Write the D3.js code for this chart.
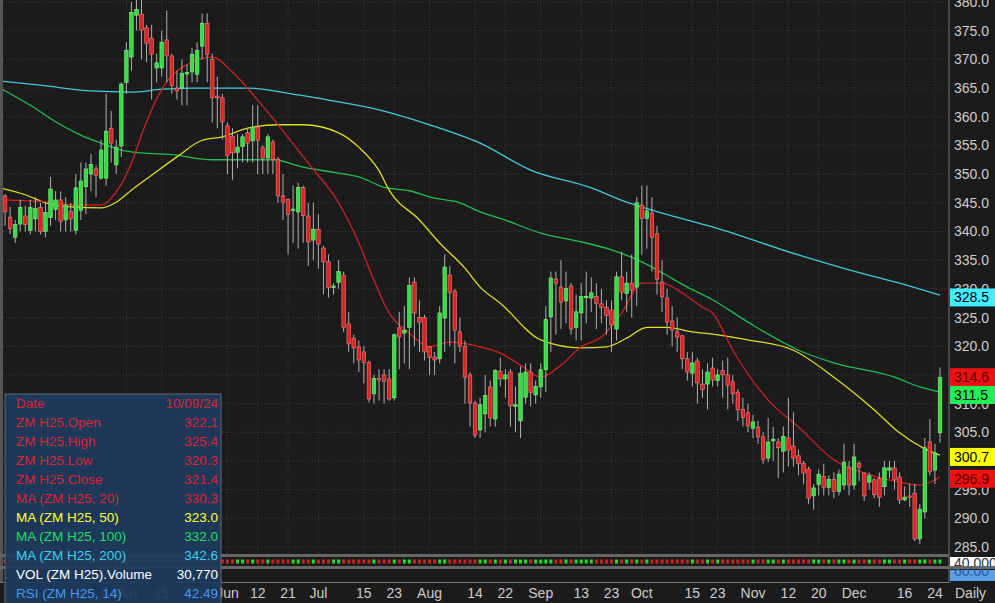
<!DOCTYPE html>
<html>
<head>
<meta charset="utf-8">
<title>ZM H25 Daily</title>
<script src="https://d3js.org/d3.v7.min.js"></script>
<style>
body{margin:0;background:#1b1b1b;overflow:hidden}
text{font-family:"Liberation Sans",Arial,sans-serif}
</style>
</head>
<body>
<script>
// daily candles, oldest first
var opens = [346.2,342.5,339.0,341.3,342.7,340.2,342.2,344.2,340,342.4,343.8,345.5,342,343.5,340.2,343.7,347.8,350,350.9,349.3,
349.3,358,351.6,354.9,366,370.4,377.7,377.9,375.5,373.7,368.5,368.5,373.4,370.6,365,365,367.5,367.8,367.4,372.3,
376.3,370,363.6,363.3,358.4,356.6,353.8,354.8,357.2,355.8,358.2,354.6,352.8,355.6,352.6,346.2,345.6,343.7,343.4,347.7,
342.7,338.5,340.4,337.1,334.7,330.2,331.1,332.4,323.9,321.4,319.9,319,317.2,311.7,314.4,315,314.3,311,323.2,322.3,
323.3,331.2,325,325,319.9,318.1,317.8,324.9,332.4,329.6,322.5,320,315,310.1,305.4,308.2,312.9,307.3,315.6,314.3,
315.5,309.5,307,311.1,315.5,311.5,312.9,315.9,325.1,331.7,330.3,327.9,330.5,323.3,325.8,328.6,328.4,328.7,327.4,326.8,
326.3,323,332.1,329.2,331,330.3,344.6,342.3,343.2,339.6,331.2,328.4,324.4,322.5,321.8,317.8,315.3,317.4,313.4,313.4,
316.2,314,315.8,315,313.8,312,309,308.4,305.7,305.9,304.2,300.5,303.5,303.3,301.7,304,302.6,300.9,299.6,298.6,
293.9,295.9,297.3,295.4,296.8,294.7,295.8,298.9,295.8,299.6,297.9,296.3,296.7,296.9,295.5,298.4,298.8,297.2,293.2,293.9,
294.4,286.4,291.1,303.3,298.4,304.9];
var highs = [346.5,344.3,342,345.5,344.5,345.5,346,345,345,349.5,347,347,346,345,350,352,352,353.5,351.5,356,
364,361,356,366,373,380,380.8,380.5,376,376,371,375,378.5,371,368,370,369,372,373,378,
378,371,367,364,359,358,357,357,358,362,362,355,357,356,353,350,345.7,348,348.5,348,
345,345,343,337.5,336,331,335,333,326,322,321,320,317.5,315,316,316,316,322.2,326,327,
332,332,328,325.5,320,319,327,336,334,330,325,321,315.5,310.5,311,315,314,316,318,316,
316,313,316.5,317,317,314,317,327,333,333,335,333,331,329,331,333,332,331,330,328,
328,333,336.5,333,336,346,348,348,346,341,335,330,327,325,322,319,319,318,316,317,
318,316,317.5,318,315,312.5,311,310,308,307,305,307.5,306,304,306,311,308.5,302,300,299,
296,298.5,299.5,297.5,298,298.5,303,300,303,300,298,298,297,298,300,300,300,298,295.5,296,
296,292.5,304,307.3,303,316.3];
var lows = [341,339.5,338,340,340,339.5,340,339.5,339,341,342,340,340,340,339.5,342,343,347,346,349,
348,352,350,353,364,368,375,370,369.5,363,366,367,366,364,363,362,362,366,366,370,
366,359,358,356,350,349,351,352,352,352,350,350,350,350,345,342,336,338,337,338,
334,335,333.5,329,328.5,329,330,322.5,319,317,315.5,313.5,310.2,310,310.5,310,310.5,310.5,316,317,
316,320,319,317.5,315,315,317,319,320,317,319,310,306,304,304,305,306,306,313,311,
306,305,304,310,309.5,310,311,312,319,322,323,324,322,321,321,324,326,323,324,322,
319,321,328,326,325,327,336,337,333,329,326,322,320,319,316,314,313,310,311,309,
313,313,311,309,310,307,306,305,304,303,299.5,299.8,300,297,298,299,299,297.5,296,292.5,
291.5,294,294,294,293.5,294,295,294,295,296.5,293,295,293.5,292,294,297,295,292.5,293,292,
286,285.5,290,297.5,296,303.2];
var closes = [343.4,340.5,341.2,344.2,341.2,344.2,344,340,343.3,347.4,345.5,341.8,344.6,342.2,347.6,348.8,350.9,351.7,349.8,354.2,
357.5,355.4,354.7,365.7,371.6,378.2,378.7,375.1,372.8,370.9,369.4,373,370.6,365.4,364.5,367.6,367.7,370.9,371.6,376.3,
370.9,363.3,363.3,359.1,353.3,353.7,354.7,356.5,355.4,358.2,355.9,352.8,356.5,352.5,346.2,345.1,343,343.9,347.7,342.8,
338.2,340.4,337.8,334.7,330.2,330.5,333,323.3,320.4,319.7,317.6,317.2,310.8,314.4,314.1,313.9,310.8,322,321.6,322.8,
330.6,325.8,324.2,319,318,317.6,325.8,333.8,329.4,322.8,320,314.6,310.1,304.5,309.8,311.4,307.5,315.8,314.3,315,
309.6,309.8,315.3,315.5,311.9,313,315.9,324.7,331.9,331,327.7,330.1,323,326,328.7,328.7,329.3,327.5,326.8,325.4,
323.7,332.1,329.4,331,329.8,345,342.3,343.6,339,331.7,328.6,324.2,322.8,321.6,317.8,315.5,317.1,313.6,312.5,315.5,
314.1,315,315,313.2,311.7,308.9,307.6,306.1,306.8,304.2,300.3,303.3,303.8,302.3,304.3,301.9,300.5,299.5,297.9,293.5,
295.3,297.7,295.4,296.8,294.7,297.7,299.8,295.8,300.7,298.9,293.9,297.4,294.1,293.7,298.8,298.8,296.7,293.2,293.7,293.7,
286.4,291.6,302.3,298.1,301.4,314.6];

// moving averages: [candle index, value]
var ma20 = [[-1,345.5],[9,345.1],[14,344.6],[19,344.6],[22,346.9],[25,351.9],[27,356.8],[29,361.2],[32,366.1],[37,369.5],[41,370.4],
[45,367.8],[50,362.9],[60,351.9],[66,345.0],[70,338.0],[73,331.5],[76,325.8],[80,322.3],[84,319.9],[88,320.7],[94,319.9],
[98,318.8],[102,316.7],[106,314.6],[110,316.7],[114,319.9],[118,321.6],[122,325.8],[126,331.0],[130,331.0],[134,329.3],
[138,326.8],[140,325.8],[144,319.3],[151,310.6],[157,305.9],[164,300.2],[171,297.6],[177,296.3],[181,295.8],[185,297.2]];
var ma50 = [[-1,347.6],[4,346.4],[8,345.0],[13,344.3],[19,344.1],[22,345.1],[25,347.2],[29,349.8],[34,353.0],[39,355.9],[43,356.5],
[48,358.0],[54,358.6],[59,358.6],[66,357.2],[70,354.7],[74,350.6],[76,347.2],[82,342.0],[86,338.0],[91,333.6],[94,330.3],
[98,327.5],[106,321.1],[114,319.7],[119,319.9],[123,321.4],[127,323.3],[131,323.3],[136,322.5],[140,322.1],[147,321.1],
[156,319.3],[164,314.6],[172,308.9],[177,304.9],[182,302.1],[185,301.0]];
var ma100 = [[-1,365.0],[5,362.0],[11,358.6],[15,356.8],[19,355.4],[23,354.2],[27,353.7],[33,353.4],[41,352.5],[48,352.5],[53,352.5],
[59,351.2],[65,350.3],[70,349.5],[75,347.7],[80,347.1],[85,345.8],[90,345.0],[94,343.4],[98,342.3],[106,339.7],[114,338.2],
[120,336.8],[126,334.7],[130,332.8],[135,330.3],[140,328.1],[147,324.2],[157,319.3],[164,317.1],[176,314.6],[181,312.9],[185,312.0]];
var ma200 = [[-1,366.2],[7,365.5],[17,364.5],[25,364.3],[31,364.8],[37,365.0],[48,365.0],[58,363.8],[64,362.9],[74,361.2],[84,358.6],
[94,355.4],[104,350.7],[116,347.6],[123,345.1],[130,343.2],[140,340.8],[157,335.9],[167,333.3],[177,331.0],[185,328.9]];

var tickIdx = [24,31,44,50,56,62,71,77,84,93,99,106,114,120,126,136,141,148,155,161,168,178,184];
var tickText = ["May","15","Jun","12","21","Jul","15","23","Aug","14","22","Sep","13","23","Oct","15","23","Nov","12","20","Dec","16","24"];
var priceTicks = d3.range(285, 381, 5);

var tagValues = [328.5, 314.6, 311.5, 300.7, 296.9];
var tagColors = ["#44eeff", "#ee1111", "#22ee55", "#ffff00", "#ee1111"];
var tagTextColors = ["#000", "#550000", "#000", "#000", "#550000"];

var infoLabels = ["Date","ZM H25.Open","ZM H25.High","ZM H25.Low","ZM H25.Close","MA (ZM H25, 20)","MA (ZM H25, 50)","MA (ZM H25, 100)","MA (ZM H25, 200)","VOL (ZM H25).Volume","RSI (ZM H25, 14)"];
var infoValues = ["10/09/24","322.1","325.4","320.3","321.4","330.3","323.0","332.0","342.6","30,770","42.49"];
var infoColors = ["#dd2233","#dd2233","#dd2233","#dd2233","#dd2233","#dd2233","#ffff33","#22dd66","#44ccee","#ffffff","#4499ee"];

var W = 995, H = 603, plotR = 949, priceBottom = 553;
var n = closes.length;
var step = 940 / n;

var svg = d3.select("body").append("svg").attr("width", W).attr("height", H);
svg.append("rect").attr("width", W).attr("height", H).attr("fill", "#1b1b1b");

var x = d3.scaleLinear().domain([-1, n - 1]).range([0, step * n]);
var y = d3.scaleLinear().domain([285, 380]).range([547, 2]);

// grid
var grid = svg.append("g").attr("stroke", "#3a3a3a").attr("stroke-dasharray", "1,2");
grid.selectAll(".h").data(priceTicks).enter().append("line")
	.attr("x1", 0).attr("x2", plotR).attr("y1", function(d){return y(d);}).attr("y2", function(d){return y(d);});
grid.selectAll(".v").data(tickIdx).enter().append("line")
	.attr("x1", function(d){return x(d);}).attr("x2", function(d){return x(d);}).attr("y1", 0).attr("y2", priceBottom);

// moving averages
var line = d3.line().x(function(d){return x(d[0]);}).y(function(d){return y(d[1]);}).curve(d3.curveMonotoneX);
[[ma200,"#44c8d8"],[ma100,"#22bb55"],[ma50,"#dddd22"],[ma20,"#cc2222"]].forEach(function(m){
	svg.append("path").attr("d", line(m[0])).attr("fill", "none").attr("stroke", m[1]).attr("stroke-width", 1.3);
});

// candles
var idx = d3.range(n);
var c = svg.append("g").selectAll("g").data(idx).enter().append("g");
c.append("line").attr("x1", function(i){return x(i);}).attr("x2", function(i){return x(i);})
	.attr("y1", function(i){return y(highs[i]);}).attr("y2", function(i){return y(lows[i]);})
	.attr("stroke", "#b0b0b0").attr("stroke-width", 1);
c.append("rect").attr("x", function(i){return x(i) - 1.8;}).attr("width", 3.6)
	.attr("y", function(i){return y(Math.max(opens[i], closes[i]));})
	.attr("height", function(i){return Math.max(1.5, Math.abs(y(opens[i]) - y(closes[i])));})
	.attr("fill", function(i){return closes[i] >= opens[i] ? "#33dd44" : "#dd2222";})
	.attr("stroke", function(i){return closes[i] >= opens[i] ? "#88ee88" : "#ee8080";})
	.attr("stroke-width", 0.6);

// right price axis
svg.append("line").attr("x1", plotR).attr("x2", plotR).attr("y1", 0).attr("y2", 583).attr("stroke", "#777");
svg.append("line").attr("x1", 1.5).attr("x2", 1.5).attr("y1", 0).attr("y2", 583).attr("stroke", "#555").attr("stroke-width", 3);
svg.selectAll(".pt").data(priceTicks).enter().append("text")
	.attr("x", 954).attr("y", function(d){return y(d) + 5;}).attr("fill", "#cccccc").attr("font-size", 14)
	.text(function(d){return d.toFixed(1);});

// price tags
var tags = svg.selectAll(".tag").data(tagValues).enter().append("g");
tags.append("rect").attr("x", 950).attr("width", 45).attr("y", function(d){return y(d) - 9;}).attr("height", 18)
	.attr("fill", function(d, i){return tagColors[i];});
tags.append("text").attr("x", 954).attr("y", function(d){return y(d) + 5;}).attr("font-size", 14)
	.attr("fill", function(d, i){return tagTextColors[i];}).text(function(d){return d.toFixed(1);});

// lower panels
svg.append("rect").attr("x", 0).attr("y", 554).attr("width", plotR).attr("height", 3).attr("fill", "#666");
svg.append("rect").attr("x", 0).attr("y", 566).attr("width", plotR).attr("height", 3).attr("fill", "#666");
svg.append("line").attr("x1", 0).attr("x2", plotR).attr("y1", 582.5).attr("y2", 582.5).attr("stroke", "#777");
svg.append("g").selectAll("rect").data(idx).enter().append("rect")
	.attr("x", function(i){return x(i) - 1.5;}).attr("y", 559.5).attr("width", 3).attr("height", 4)
	.attr("fill", function(i){return closes[i] >= opens[i] ? "#22dd22" : "#cc2222";});
svg.append("rect").attr("x", 950).attr("y", 557).attr("width", 45).attr("height", 9).attr("fill", "#fff");
svg.append("text").attr("x", 954).attr("y", 568).attr("font-size", 14).attr("fill", "#333").text("40,000");
svg.append("rect").attr("x", 950).attr("y", 569).attr("width", 45).attr("height", 0).attr("fill", "#000");
svg.append("rect").attr("x", 950).attr("y", 570).attr("width", 45).attr("height", 11).attr("fill", "#5a9fe6");
svg.append("text").attr("x", 954).attr("y", 576).attr("font-size", 14).attr("fill", "#2a5a9a").text("60.00");
svg.append("rect").attr("x", 949).attr("y", 566).attr("width", 46).attr("height", 3).attr("fill", "#666");

// x axis labels
svg.selectAll(".xl").data(tickIdx).enter().append("text")
	.attr("x", function(d){return x(d);}).attr("y", 598).attr("text-anchor", "middle")
	.attr("fill", "#cccccc").attr("font-size", 14).text(function(d, i){return tickText[i];});
svg.append("text").attr("x", 955).attr("y", 598).attr("fill", "#cccccc").attr("font-size", 14).text("Daily");

// info box
var info = svg.append("g").attr("transform", "translate(5,394)");
info.append("rect").attr("width", 216).attr("height", 212).attr("fill", "#1d3a5c").attr("fill-opacity", 0.95)
	.attr("stroke", "#667").attr("stroke-width", 1);
info.selectAll(".il").data(infoLabels).enter().append("text")
	.attr("x", 11).attr("y", function(d, i){return 14 + i * 19;}).attr("font-size", 13.5)
	.attr("fill", function(d, i){return infoColors[i];}).text(function(d){return d;});
info.selectAll(".iv").data(infoValues).enter().append("text")
	.attr("x", 213).attr("y", function(d, i){return 14 + i * 19;}).attr("font-size", 13.5).attr("text-anchor", "end")
	.attr("fill", function(d, i){return infoColors[i];}).text(function(d){return d;});
</script>
</body>
</html>
